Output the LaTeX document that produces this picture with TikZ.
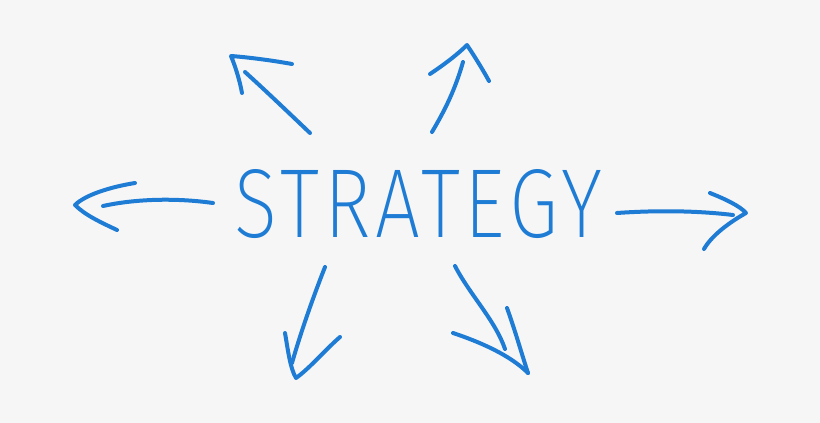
\documentclass[tikz,border=0pt]{standalone}
\usepackage{fontspec}
\newfontfamily\handfont{Fira Sans ExtraLight}[LetterSpace=6]
\definecolor{penblue}{RGB}{30,124,212}
\definecolor{board}{RGB}{246,246,247}
\begin{document}
\begin{tikzpicture}[x=1pt,y=-1pt,
  pen/.style={draw=penblue,line width=4pt,line cap=round,line join=round},
  word/.style={text=penblue,inner sep=0pt,font=\handfont}]
\useasboundingbox (0,0) rectangle (820,423);
\fill[board] (0,0) rectangle (820,423);
\node[word] (strategy) at (418.5,204) {\resizebox{367pt}{68pt}{STRATEGY}};
% named ends
\coordinate (lA) at (213,203); \coordinate (lB) at (103,206);
\coordinate (ulA) at (310,133); \coordinate (ulB) at (245,72);
\coordinate (uA) at (432,132); \coordinate (uB) at (463,62);
\coordinate (rA) at (617,213); \coordinate (rB) at (733,215);
\coordinate (dlA) at (325,267); \coordinate (dlB) at (292,363);
\coordinate (drA) at (455,266); \coordinate (drB) at (505,349);
% left arrow
\draw[pen] (lA) .. controls (170,197) and (130,200) .. (lB);
\draw[pen] (135,183) .. controls (110,187) and (85,195) .. (75,205) .. controls (85,215) and (100,222) .. (117,230);
% upper-left arrow
\draw[pen] (ulA) .. controls (290,114) and (265,90) .. (ulB);
\draw[pen] (292,64) .. controls (270,60) and (245,57) .. (231,56) .. controls (236,68) and (240,82) .. (242,93);
% upper arrow
\draw[pen] (uA) .. controls (445,110) and (455,90) .. (uB);
\draw[pen] (430,74) .. controls (445,64) and (458,54) .. (467,45) .. controls (475,57) and (483,70) .. (489,81);
% right arrow
\draw[pen] (rA) .. controls (660,210) and (700,211) .. (rB);
\draw[pen] (710,193) .. controls (725,199) and (740,206) .. (746,213) .. controls (730,222) and (712,235) .. (704,249);
% lower-left arrow
\draw[pen] (dlA) .. controls (312,300) and (300,335) .. (dlB);
\draw[pen] (285,333) .. controls (288,350) and (290,368) .. (296,378) .. controls (310,368) and (325,350) .. (340,337);
% lower-right arrow
\draw[pen] (drA) .. controls (470,295) and (495,320) .. (drB);
\draw[pen] (507,308) .. controls (515,330) and (522,355) .. (528,373);
\draw[pen] (453,333) .. controls (480,342) and (510,355) .. (528,373);
\end{tikzpicture}
\end{document}
